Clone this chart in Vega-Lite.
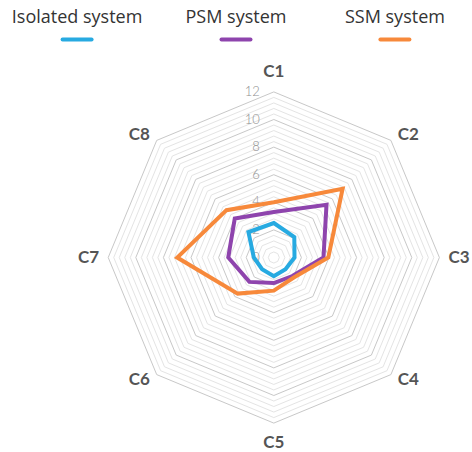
{
  "$schema": "https://vega.github.io/schema/vega-lite/v6.json",
  "padding": 0,
  "bounds": "flush",
  "spacing": 0,
  "config": {"view": {"stroke": null}},
  "datasets": {
    "scores": [
      {"series": "Isolated system", "cat": "C1", "value": 2.5},
      {"series": "Isolated system", "cat": "C2", "value": 2.1},
      {"series": "Isolated system", "cat": "C3", "value": 1.5},
      {"series": "Isolated system", "cat": "C4", "value": 1.2},
      {"series": "Isolated system", "cat": "C5", "value": 1.35},
      {"series": "Isolated system", "cat": "C6", "value": 1.2},
      {"series": "Isolated system", "cat": "C7", "value": 1.45},
      {"series": "Isolated system", "cat": "C8", "value": 2.6},
      {"series": "PSM system", "cat": "C1", "value": 3.3},
      {"series": "PSM system", "cat": "C2", "value": 5.4},
      {"series": "PSM system", "cat": "C3", "value": 3.6},
      {"series": "PSM system", "cat": "C4", "value": 1.9},
      {"series": "PSM system", "cat": "C5", "value": 1.85},
      {"series": "PSM system", "cat": "C6", "value": 2.5},
      {"series": "PSM system", "cat": "C7", "value": 3.3},
      {"series": "PSM system", "cat": "C8", "value": 4.0},
      {"series": "SSM system", "cat": "C1", "value": 4.0},
      {"series": "SSM system", "cat": "C2", "value": 7.05},
      {"series": "SSM system", "cat": "C3", "value": 3.95},
      {"series": "SSM system", "cat": "C4", "value": 2.05},
      {"series": "SSM system", "cat": "C5", "value": 2.4},
      {"series": "SSM system", "cat": "C6", "value": 3.7},
      {"series": "SSM system", "cat": "C7", "value": 7.0},
      {"series": "SSM system", "cat": "C8", "value": 4.85}
    ],
    "rings": [
      {"cat": "C1", "minor": [0.4,0.8,1.2,1.6,2.4,2.8,3.2,3.6,4.4,4.8,5.2,5.6,6.4,6.8,7.2,7.6,8.4,8.8,9.2,9.6,10.4,10.8,11.2,11.6], "major": [2,4,6,8,10,12]},
      {"cat": "C2", "minor": [0.4,0.8,1.2,1.6,2.4,2.8,3.2,3.6,4.4,4.8,5.2,5.6,6.4,6.8,7.2,7.6,8.4,8.8,9.2,9.6,10.4,10.8,11.2,11.6], "major": [2,4,6,8,10,12]},
      {"cat": "C3", "minor": [0.4,0.8,1.2,1.6,2.4,2.8,3.2,3.6,4.4,4.8,5.2,5.6,6.4,6.8,7.2,7.6,8.4,8.8,9.2,9.6,10.4,10.8,11.2,11.6], "major": [2,4,6,8,10,12]},
      {"cat": "C4", "minor": [0.4,0.8,1.2,1.6,2.4,2.8,3.2,3.6,4.4,4.8,5.2,5.6,6.4,6.8,7.2,7.6,8.4,8.8,9.2,9.6,10.4,10.8,11.2,11.6], "major": [2,4,6,8,10,12]},
      {"cat": "C5", "minor": [0.4,0.8,1.2,1.6,2.4,2.8,3.2,3.6,4.4,4.8,5.2,5.6,6.4,6.8,7.2,7.6,8.4,8.8,9.2,9.6,10.4,10.8,11.2,11.6], "major": [2,4,6,8,10,12]},
      {"cat": "C6", "minor": [0.4,0.8,1.2,1.6,2.4,2.8,3.2,3.6,4.4,4.8,5.2,5.6,6.4,6.8,7.2,7.6,8.4,8.8,9.2,9.6,10.4,10.8,11.2,11.6], "major": [2,4,6,8,10,12]},
      {"cat": "C7", "minor": [0.4,0.8,1.2,1.6,2.4,2.8,3.2,3.6,4.4,4.8,5.2,5.6,6.4,6.8,7.2,7.6,8.4,8.8,9.2,9.6,10.4,10.8,11.2,11.6], "major": [2,4,6,8,10,12]},
      {"cat": "C8", "minor": [0.4,0.8,1.2,1.6,2.4,2.8,3.2,3.6,4.4,4.8,5.2,5.6,6.4,6.8,7.2,7.6,8.4,8.8,9.2,9.6,10.4,10.8,11.2,11.6], "major": [2,4,6,8,10,12]}
    ],
    "ticks": [
      {"tick": 0}, {"tick": 2}, {"tick": 4}, {"tick": 6}, {"tick": 8}, {"tick": 10}, {"tick": 12}
    ],
    "cats": [
      {"cat": "C1"}, {"cat": "C2"}, {"cat": "C3"}, {"cat": "C4"},
      {"cat": "C5"}, {"cat": "C6"}, {"cat": "C7"}, {"cat": "C8"}
    ],
    "legend": [
      {"series": "Isolated system"}, {"series": "PSM system"}, {"series": "SSM system"}
    ]
  },
  "vconcat": [
    {
      "width": 472,
      "height": 57,
      "data": {"name": "legend"},
      "encoding": {
        "x": {"field": "series", "type": "nominal", "sort": null, "scale": {"type": "point", "padding": 0.485}, "axis": null}
      },
      "layer": [
        {
          "mark": {"type": "text", "font": "Open Sans", "fontSize": 18, "color": "#333333", "baseline": "alphabetic", "align": "center", "dy": -5.5},
          "encoding": {"text": {"field": "series"}}
        },
        {
          "mark": {"type": "point", "shape": "stroke", "size": 841, "strokeWidth": 4, "strokeCap": "round", "filled": false, "opacity": 1, "yOffset": 11},
          "encoding": {
            "color": {"field": "series", "type": "nominal", "scale": {"domain": ["Isolated system", "PSM system", "SSM system"], "range": ["#27aae1", "#8e44ad", "#f7893b"]}, "legend": null}
          }
        }
      ]
    },
    {
      "width": 472,
      "height": 395,
      "encoding": {
        "x": {"field": "x", "type": "quantitative", "scale": {"domain": [-19.841, 14.362], "nice": false, "zero": false}, "axis": null},
        "y": {"field": "y", "type": "quantitative", "scale": {"domain": [-14.094, 14.529], "nice": false, "zero": false}, "axis": null}
      },
      "layer": [
        {
          "data": {"name": "rings"},
          "transform": [
            {"flatten": ["minor"]},
            {"calculate": "toNumber(substring(datum.cat, 1)) - 1", "as": "k"},
            {"calculate": "datum.minor * sin(datum.k * PI / 4)", "as": "x"},
            {"calculate": "datum.minor * cos(datum.k * PI / 4)", "as": "y"}
          ],
          "mark": {"type": "line", "interpolate": "linear-closed", "stroke": "#e4e4e4", "strokeWidth": 1},
          "encoding": {"detail": {"field": "minor"}, "order": {"field": "k", "type": "quantitative"}}
        },
        {
          "data": {"name": "rings"},
          "transform": [
            {"flatten": ["major"]},
            {"calculate": "toNumber(substring(datum.cat, 1)) - 1", "as": "k"},
            {"calculate": "datum.major * sin(datum.k * PI / 4)", "as": "x"},
            {"calculate": "datum.major * cos(datum.k * PI / 4)", "as": "y"}
          ],
          "mark": {"type": "line", "interpolate": "linear-closed", "stroke": "#c8c8c8", "strokeWidth": 1},
          "encoding": {"detail": {"field": "major"}, "order": {"field": "k", "type": "quantitative"}}
        },
        {
          "data": {"name": "ticks"},
          "transform": [
            {"calculate": "0", "as": "x"},
            {"calculate": "datum.tick", "as": "y"}
          ],
          "mark": {"type": "text", "font": "Lato", "fontWeight": 300, "fontSize": 13, "color": "#8f8f8f", "align": "right", "baseline": "middle", "dx": -14},
          "encoding": {"text": {"field": "tick", "type": "quantitative"}}
        },
        {
          "data": {"name": "scores"},
          "transform": [
            {"calculate": "toNumber(substring(datum.cat, 1)) - 1", "as": "k"},
            {"calculate": "datum.value * sin(datum.k * PI / 4)", "as": "x"},
            {"calculate": "datum.value * cos(datum.k * PI / 4)", "as": "y"}
          ],
          "mark": {"type": "line", "interpolate": "linear-closed", "strokeWidth": 4},
          "encoding": {
            "color": {"field": "series", "type": "nominal", "scale": {"domain": ["Isolated system", "PSM system", "SSM system"], "range": ["#27aae1", "#8e44ad", "#f7893b"]}, "legend": null},
            "order": {"field": "k", "type": "quantitative"}
          }
        },
        {
          "data": {"name": "cats"},
          "transform": [
            {"calculate": "toNumber(substring(datum.cat, 1)) - 1", "as": "k"},
            {"calculate": "sin(datum.k * PI / 4) * (datum.k % 2 == 1 ? 13.78 : 13.42)", "as": "x"},
            {"calculate": "cos(datum.k * PI / 4) * (datum.k % 2 == 1 ? 12.6 : 13.42)", "as": "y"}
          ],
          "mark": {"type": "text", "font": "Lato", "fontWeight": "bold", "fontSize": 17, "color": "#555555", "align": "center", "baseline": "middle"},
          "encoding": {"text": {"field": "cat"}}
        }
      ]
    }
  ]
}
